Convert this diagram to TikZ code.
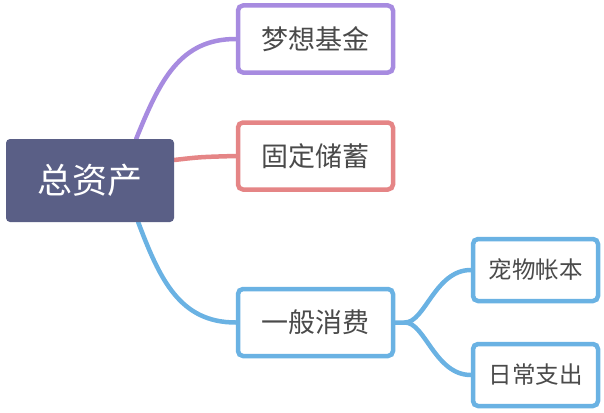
\documentclass[tikz,border=0pt]{standalone}
\usepackage{fontspec}
\setmainfont{Noto Sans CJK SC}
\usepackage{tikz}
\usetikzlibrary{positioning,backgrounds}
\definecolor{mmroot}{HTML}{5A5F86}
\definecolor{mmpurple}{HTML}{A78BE0}
\definecolor{mmred}{HTML}{E58586}
\definecolor{mmblue}{HTML}{6AB2E3}
\definecolor{mmtext}{HTML}{4A4A4A}

\begin{document}
\begin{tikzpicture}[x=1pt, y=-1pt,
    rootbox/.style={fill=mmroot, rounded corners=4pt, minimum width=168pt, minimum height=83pt, text=white, font=\fontsize{35}{35}\selectfont},
    topic/.style={draw, fill=white, line width=4.5pt, rounded corners=5pt, minimum width=155pt, minimum height=67pt, text=mmtext, font=\fontsize{27}{27}\selectfont},
    subtopic/.style={draw=mmblue, fill=white, line width=4.5pt, rounded corners=5pt, minimum width=125pt, minimum height=62pt, text=mmtext, font=\fontsize{23.5}{23.5}\selectfont},
    branch/.style={line width=4.5pt, line cap=round}
]
    \useasboundingbox (0,0) rectangle (604,412);

    \node[rootbox] (root) at (90,180.5) {总资产};

    \node[topic, draw=mmpurple] (dream) at (315.5,39) {梦想基金};
    \node[topic, draw=mmred] (fixed) at (315.5,156) {固定储蓄};
    \node[topic, draw=mmblue] (spend) at (315.5,322.5) {一般消费};

    \node[subtopic] (pet) at (535.5,270) {宠物帐本};
    \node[subtopic] (daily) at (535.5,375) {日常支出};

    \begin{pgfonlayer}{background}
        \draw[branch, mmpurple] ([xshift=-38pt]root.north east) .. controls (160,80) and (180,39) .. (dream.west);
        \draw[branch, mmred] (root.east |- 0,160) .. controls (200,157) .. (fixed.west);
        \draw[branch, mmblue] ([xshift=-36pt]root.south east) .. controls (160,280) and (180,322.5) .. (spend.west);
        \draw[branch, mmblue] (spend.east) -- (405,322.5) .. controls (425,322.5) and (435,270) .. (pet.west);
        \draw[branch, mmblue] (405,322.5) .. controls (425,322.5) and (435,375) .. (daily.west);
    \end{pgfonlayer}
\end{tikzpicture}
\end{document}
